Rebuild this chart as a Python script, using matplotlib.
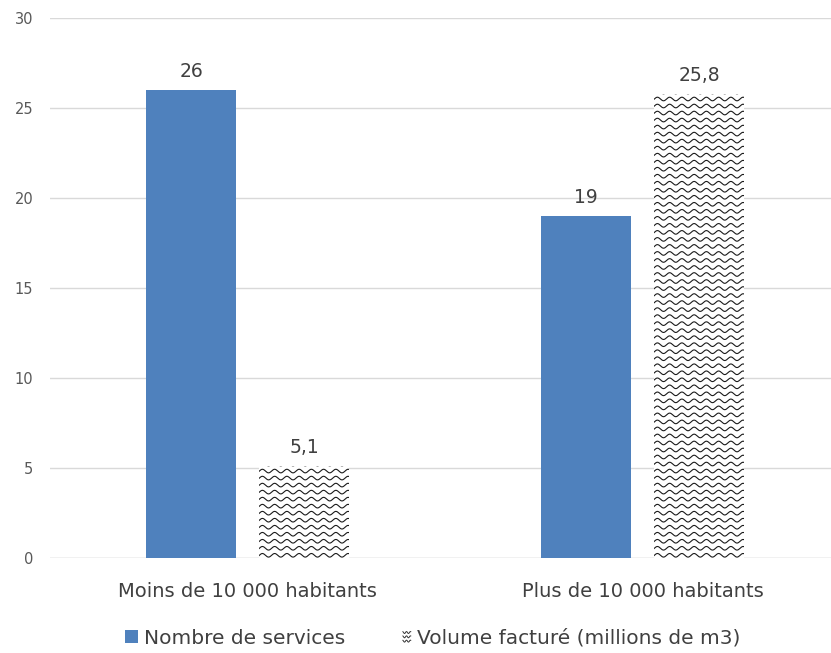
import numpy as np
import matplotlib.pyplot as plt
from matplotlib.patches import Patch, Rectangle
from matplotlib.lines import Line2D
from matplotlib.legend_handler import HandlerBase

categories = ["Moins de 10 000 habitants", "Plus de 10 000 habitants"]
nb_services = [26, 19]
volume = [5.1, 25.8]
labels_services = ["26", "19"]
labels_volume = ["5,1", "25,8"]

plt.rcParams['font.family'] = ['DejaVu Sans']
txt = "#404040"

fig = plt.figure(figsize=(8.31, 6.53), dpi=100)
ax = fig.add_axes([50 / 831, 1 - 558 / 653, 790 / 831, 540 / 653])

x = np.arange(len(categories))
w = 0.226
off = 0.143
blue = "#4F81BD"

b1 = ax.bar(x - off, nb_services, w, color=blue, zorder=3)
b2 = ax.bar(x + off, volume, w, color="white", zorder=3)

# wavy pattern inside the second series
for rect in b2:
    x0 = rect.get_x()
    xs = np.linspace(x0 - 0.02, x0 + rect.get_width() + 0.02, 400)
    yy = 0.15
    while yy < rect.get_height() + 0.5:
        ys = yy + 0.1 * np.sin(2 * np.pi * (xs - x0) / 0.031)
        ln, = ax.plot(xs, ys, color="#1a1a1a", lw=0.8, zorder=4)
        ln.set_clip_path(rect)
        yy += 0.39

for bars, labs in ((b1, labels_services), (b2, labels_volume)):
    for rect, t in zip(bars, labs):
        ax.text(rect.get_x() + rect.get_width() / 2, rect.get_height() + 0.5, t,
                ha="center", va="bottom", fontsize=13.5, color=txt)

ax.set_xlim(-0.5, 1.5)
ax.set_ylim(0, 30)
ax.set_yticks(range(0, 31, 5))
ax.set_xticks(x)
ax.set_xticklabels(categories, fontsize=14, color=txt)
ax.tick_params(axis="y", labelsize=10.5, colors="#595959", length=0, pad=12)
ax.tick_params(axis="x", length=0, pad=17)
ax.grid(axis="y", color="#D9D9D9", lw=1, zorder=0)
for s in ax.spines.values():
    s.set_visible(False)
ax.axhline(0, color="#D9D9D9", lw=1, zorder=1)


class WaveHandler(HandlerBase):
    def create_artists(self, legend, orig, xd, yd, width, height, fontsize, trans):
        arts = []
        xs = np.linspace(width * 0.4, width, 30)
        for k in range(3):
            ys = height * (0.15 + 0.32 * k) + 0.7 * np.sin(2 * np.pi * xs / (width * 0.3))
            arts.append(Line2D(xs - xd, ys - yd, color="#333333", lw=0.7, transform=trans))
        return arts


handles = [Patch(facecolor=blue), Rectangle((0, 0), 1, 1)]
fig.legend(handles, ["Nombre de services", "Volume facturé (millions de m3)"],
           handler_map={Rectangle: WaveHandler()},
           loc="center", bbox_to_anchor=(0.5205, 1 - 638 / 653), ncol=2, frameon=False,
           fontsize=14.5, handlelength=0.65, handleheight=0.65, columnspacing=2.6,
           handletextpad=0.3, labelcolor=txt)

fig.savefig("out.png", dpi=100)
